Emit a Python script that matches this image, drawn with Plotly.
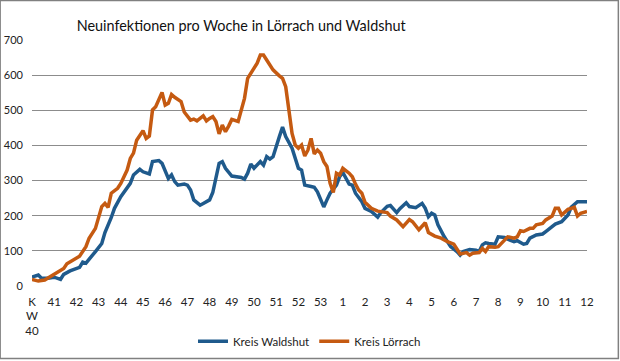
import plotly.graph_objects as go

# Kalenderwochen-Beschriftung (KW 40 ... KW 12)
wochen = ["K<br>W<br>40", "41", "42", "43", "44", "45", "46", "47", "48", "49", "50",
          "51", "52", "53", "1", "2", "3", "4", "5", "6", "7", "8", "9", "10", "11", "12"]

# Kreis Waldshut: Tag seit Beginn KW40, Neuinfektionen (7-Tage-Summe)
tage_waldshut = [0, 2, 3, 5, 7, 9, 10, 12, 15, 16, 17, 19, 20, 22, 23, 25, 26, 28, 29, 31,
                 32, 34, 35, 37, 38, 40, 41, 42, 43, 44, 45, 46, 48, 49, 50, 51, 53, 54, 56, 57,
                 58, 59, 60, 61, 63, 64, 66, 67, 68, 69, 70, 72, 73, 74, 75, 76, 77, 78, 79, 80,
                 82, 83, 84, 85, 86, 88, 89, 90, 92, 93, 94, 96, 97, 98, 100, 101, 102, 104, 105, 107,
                 109, 110, 112, 113, 115, 116, 118, 119, 121, 123, 124, 125, 126, 127, 128, 130, 132, 134, 135, 136,
                 138, 140, 141, 142, 143, 144, 146, 147, 149, 150, 152, 153, 155, 156, 157, 159, 161, 162, 164, 165,
                 167, 169, 170, 172, 175]
werte_waldshut = [25, 31, 22, 22, 25, 19, 33, 43, 53, 68, 65, 85, 98, 121, 152, 195, 221, 254, 266, 292,
                  316, 332, 325, 319, 354, 357, 349, 325, 306, 316, 297, 287, 290, 287, 273, 245, 230, 235, 245, 266,
                  311, 349, 354, 335, 313, 311, 309, 304, 321, 347, 335, 354, 344, 368, 361, 368, 401, 425, 452, 425,
                  392, 363, 335, 330, 287, 283, 281, 268, 225, 245, 264, 287, 311, 323, 290, 287, 264, 240, 221, 212,
                  196, 209, 227, 229, 209, 220, 237, 226, 223, 235, 221, 197, 207, 202, 174, 140, 112, 98, 88, 98,
                  104, 102, 98, 117, 123, 121, 119, 140, 138, 133, 126, 129, 119, 121, 136, 145, 148, 155, 171, 176,
                  183, 202, 224, 240, 240]

# Kreis Lörrach
tage_loerrach = [0, 2, 4, 6, 8, 10, 11, 13, 15, 17, 18, 20, 21, 22, 23, 24, 25, 27, 28, 30,
                 31, 32, 33, 35, 36, 37, 38, 39, 41, 42, 43, 44, 45, 47, 48, 50, 51, 52, 54, 55,
                 56, 57, 58, 59, 60, 61, 62, 63, 65, 66, 67, 68, 69, 71, 72, 73, 74, 75, 76, 78,
                 79, 80, 81, 82, 83, 84, 85, 86, 87, 88, 89, 90, 91, 92, 93, 94, 95, 96, 97, 98,
                 100, 101, 102, 103, 104, 105, 107, 108, 109, 112, 113, 115, 117, 119, 120, 122, 124, 125, 127, 129,
                 131, 133, 134, 135, 137, 138, 139, 141, 142, 143, 144, 146, 147, 149, 150, 152, 153, 154, 155, 157,
                 158, 159, 161, 162, 164, 165, 166, 167, 169, 170, 171, 172, 173, 175]
werte_loerrach = [19, 14, 17, 28, 39, 50, 63, 74, 85, 112, 136, 164, 197, 226, 235, 224, 264, 278, 292, 330,
                  363, 378, 415, 442, 420, 427, 501, 510, 551, 515, 520, 545, 537, 525, 495, 472, 475, 470, 484, 470,
                  477, 482, 468, 433, 458, 439, 455, 474, 468, 506, 534, 591, 605, 634, 657, 657, 643, 629, 615, 598,
                  591, 567, 491, 434, 401, 392, 401, 370, 387, 420, 376, 387, 378, 354, 340, 292, 266, 321, 316, 335,
                  321, 311, 290, 273, 264, 238, 221, 216, 213, 209, 199, 188, 169, 189, 183, 160, 180, 152, 142, 136,
                  126, 119, 107, 91, 95, 88, 93, 95, 107, 98, 112, 110, 112, 131, 140, 136, 140, 157, 155, 164,
                  164, 174, 178, 188, 199, 221, 221, 202, 218, 221, 224, 199, 207, 212]

y_ticks = [0, 100, 200, 300, 400, 500, 600, 700]

fig = go.Figure()
fig.add_trace(go.Scatter(x=tage_waldshut, y=werte_waldshut, mode="lines", name="Kreis Waldshut",
                         line=dict(color="#1F5A8C", width=3.5)))
fig.add_trace(go.Scatter(x=tage_loerrach, y=werte_loerrach, mode="lines", name="Kreis Lörrach",
                         line=dict(color="#C55A11", width=3.5)))

fig.update_layout(
    width=620, height=361,
    margin=dict(l=32, r=33, t=40, b=75, autoexpand=False),
    paper_bgcolor="white", plot_bgcolor="white",
    font=dict(family="Lato, Roboto, sans-serif", size=11, color="#222"),
    title=dict(text="Neuinfektionen pro Woche in Lörrach und Waldshut",
               x=0.389, xanchor="center", xref="container",
               y=0.928, yanchor="middle", yref="container",
               font=dict(size=14.4, color="#111")),
    showlegend=True,
    legend=dict(orientation="h", x=0.5, xanchor="center", y=-0.225, yanchor="middle",
                font=dict(size=11.5, color="#222"), itemwidth=30, bgcolor="rgba(0,0,0,0)"),
    xaxis=dict(range=[0, 175], tickmode="array", tickvals=[7 * i for i in range(len(wochen))],
               ticktext=wochen, showgrid=False, zeroline=False, showline=False, ticks="",
               tickfont=dict(size=11.5), ticklabelstandoff=7, automargin=False, fixedrange=True),
    yaxis=dict(range=[0, 700], tickmode="array", tickvals=y_ticks, showgrid=True,
               gridcolor="#8c8c8c", gridwidth=1, zeroline=False, showline=False, ticks="",
               tickfont=dict(size=11), ticklabelstandoff=8, automargin=False, fixedrange=True),
    shapes=[dict(type="rect", xref="paper", yref="paper",
                 x0=-0.0574, x1=1.0565, y0=-0.2947, y1=1.1606,
                 line=dict(color="#808080", width=1.5), fillcolor="rgba(0,0,0,0)", layer="above")],
)

fig.write_html("out.html", config={"displayModeBar": False},
               post_script="document.body.style.margin='0';")
